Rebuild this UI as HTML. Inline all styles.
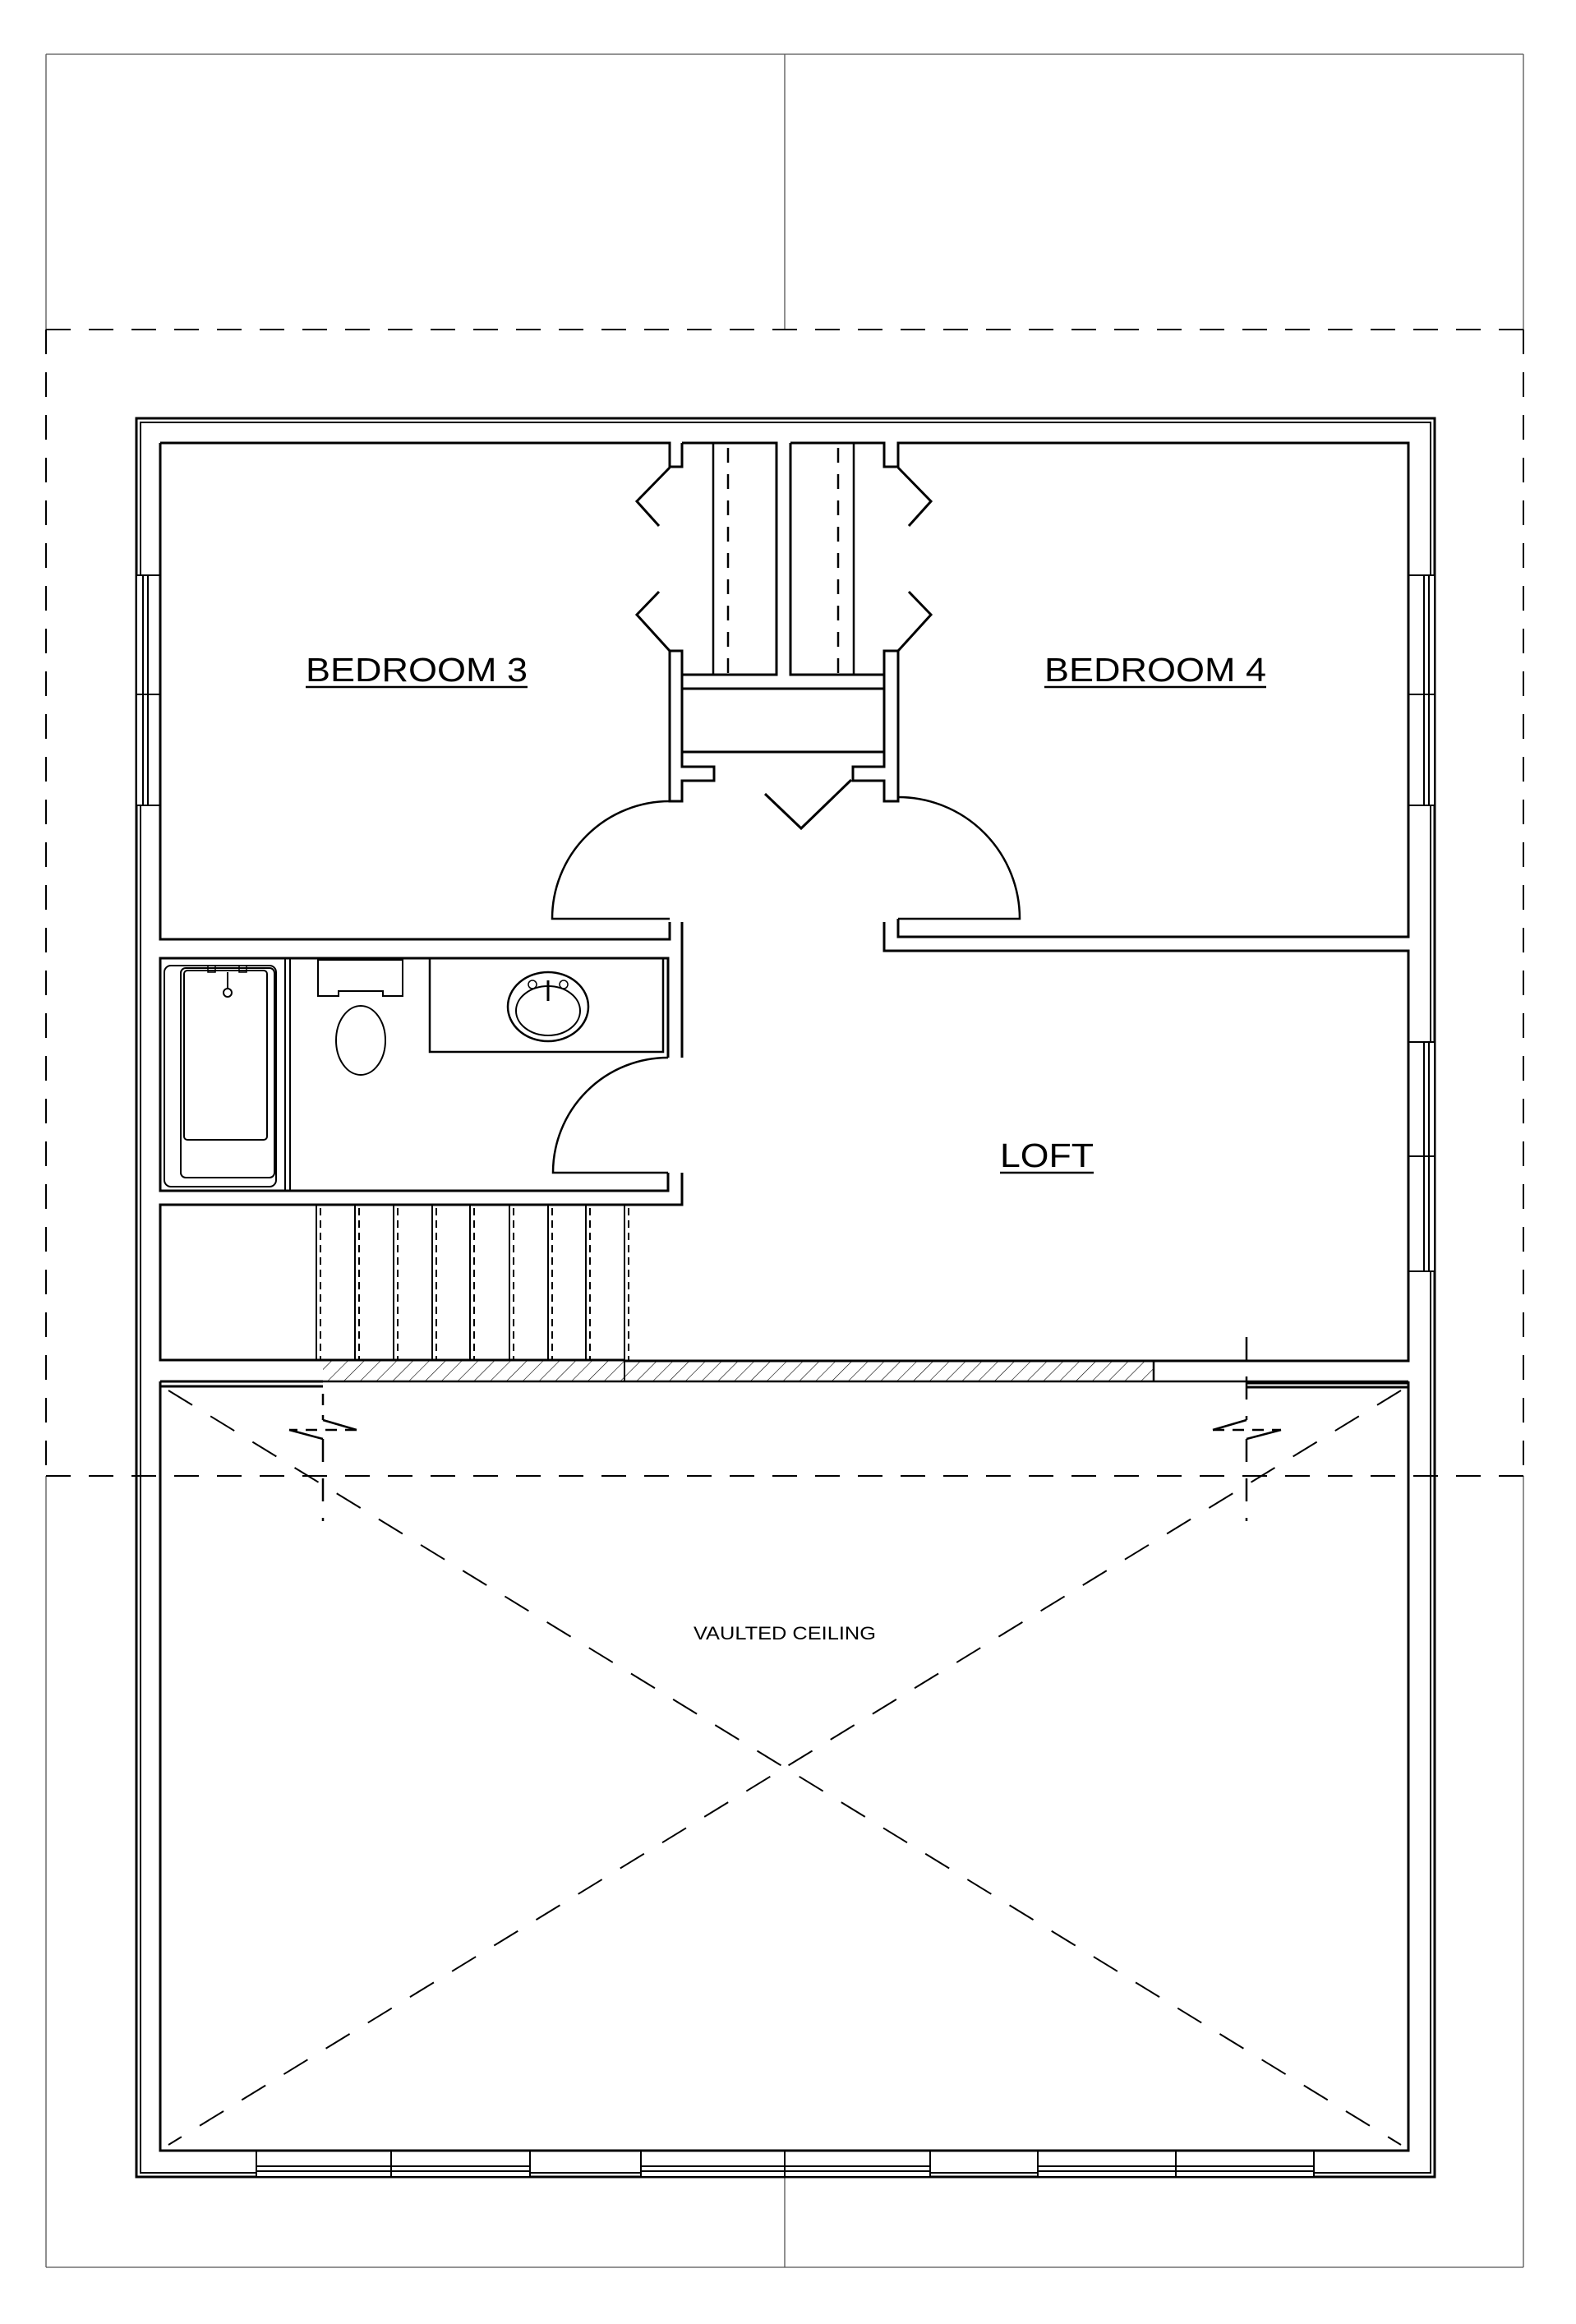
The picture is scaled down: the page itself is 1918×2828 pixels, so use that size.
<!DOCTYPE html>
<html><head><meta charset="utf-8"><style>
html,body{margin:0;padding:0;background:#fff}
svg{display:block}
text{font-family:"Liberation Sans",sans-serif;fill:#000}
</style></head><body>
<svg width="1918" height="2828" viewBox="0 0 1918 2828" xmlns="http://www.w3.org/2000/svg">
<defs>
<pattern id="h" patternUnits="userSpaceOnUse" width="14" height="14" patternTransform="rotate(45)">
<line x1="0" y1="0" x2="0" y2="14" stroke="#000" stroke-width="1.2"/>
</pattern>
</defs>
<rect width="1918" height="2828" fill="#fff"/>
<g fill="none" stroke="#000">
<!-- thin sheet frame -->
<g stroke-width="1.3" stroke="#555">
<line x1="56" y1="66" x2="1854" y2="66"/>
<line x1="56" y1="66" x2="56" y2="401"/>
<line x1="1854" y1="66" x2="1854" y2="401"/>
<line x1="955" y1="66" x2="955" y2="401"/>
<line x1="56" y1="1796" x2="56" y2="2759"/>
<line x1="1854" y1="1796" x2="1854" y2="2759"/>
<line x1="56" y1="2759" x2="1854" y2="2759"/>
<line x1="955" y1="2649" x2="955" y2="2759"/>
</g>
<!-- dashed frame -->
<g stroke-width="2" stroke-dasharray="30,22">
<line x1="56" y1="401" x2="1854" y2="401"/>
<line x1="56" y1="401" x2="56" y2="1796"/>
<line x1="1854" y1="401" x2="1854" y2="1796"/>
<line x1="56" y1="1796" x2="1854" y2="1796"/>
</g>
<!-- outer walls -->
<rect x="166" y="509" width="1580" height="2140" stroke-width="3"/>
<rect x="171" y="514" width="1570" height="2130" stroke-width="2"/>
<!-- windows left -->
<g stroke-width="2" fill="#fff">
<rect x="166" y="700" width="29" height="280"/>
<line x1="174" y1="700" x2="174" y2="980"/><line x1="180" y1="700" x2="180" y2="980"/>
<line x1="166" y1="845" x2="195" y2="845"/>
<rect x="1714" y="700" width="32" height="280"/>
<line x1="1733" y1="700" x2="1733" y2="980"/><line x1="1739" y1="700" x2="1739" y2="980"/>
<line x1="1714" y1="845" x2="1746" y2="845"/>
<rect x="1714" y="1268" width="32" height="279"/>
<line x1="1733" y1="1268" x2="1733" y2="1547"/><line x1="1739" y1="1268" x2="1739" y2="1547"/>
<line x1="1714" y1="1407" x2="1746" y2="1407"/>
<rect x="312" y="2617" width="333" height="32"/>
<line x1="312" y1="2636" x2="645" y2="2636"/><line x1="312" y1="2642" x2="645" y2="2642"/>
<line x1="476" y1="2617" x2="476" y2="2649"/>
<rect x="780" y="2617" width="352" height="32"/>
<line x1="780" y1="2636" x2="1132" y2="2636"/><line x1="780" y1="2642" x2="1132" y2="2642"/>
<line x1="955" y1="2617" x2="955" y2="2649"/>
<rect x="1263" y="2617" width="336" height="32"/>
<line x1="1263" y1="2636" x2="1599" y2="2636"/><line x1="1263" y1="2642" x2="1599" y2="2642"/>
<line x1="1431" y1="2617" x2="1431" y2="2649"/>
</g>
<g stroke-width="3">
<!-- bedroom 3 -->
<path d="M195,539 H815 V568 H830 V539 M195,539 V1143 H815 V1122"/>
<!-- closets -->
<path d="M830,539 H945 V821 H830 V792 H815 V975 H830 V950 H869 V933 H830 V915"/>
<path d="M962,539 H1076 V568 H1093 V539 H1714 V1140 H1093 V1118"/>
<path d="M962,539 V821 H1076 V792 H1093 V975 H1076 V950 H1038 V933 H1076 V915"/>
<rect x="830" y="838" width="246" height="77"/>
<path d="M830,821 V838 M1076,821 V838"/>
<line x1="868" y1="539" x2="868" y2="821" stroke-width="2.5"/>
<line x1="1039" y1="539" x2="1039" y2="821" stroke-width="2.5"/>
<line x1="886" y1="545" x2="886" y2="821" stroke-width="2.5" stroke-dasharray="18,14"/>
<line x1="1020" y1="545" x2="1020" y2="821" stroke-width="2.5" stroke-dasharray="18,14"/>
<polyline points="815,569 775,610 802,640"/>
<polyline points="802,720 775,748 815,792"/>
<polyline points="1093,569 1133,610 1106,640"/>
<polyline points="1106,720 1133,748 1093,792"/>
<!-- hall doors -->
<path d="M1093,970 A148,148 0 0 1 1241,1118 H1093" stroke-width="2.5"/>
<path d="M815,975 A143,143 0 0 0 672,1118 H815" stroke-width="2.5"/>
<polyline points="1036,949 975,1008 931,966" stroke-width="3"/>
<!-- loft box -->
<path d="M1076,1122 V1157 H1714 V1656 H760"/>
<!-- bath -->
<path d="M830,1122 V1287 M813,1287 V1166 H195 V1449 H813 V1427"/>
<path d="M813,1287 A140,140 0 0 0 673,1427 H813" stroke-width="2.5"/>
<path d="M830,1427 V1466 H195 V1655 H393"/>
<!-- tub -->
<rect x="200" y="1175" width="136" height="269" rx="8" stroke-width="2"/>
<rect x="220" y="1178" width="114" height="255" rx="6" stroke-width="2"/>
<rect x="224" y="1181" width="101" height="206" rx="4" stroke-width="2"/>
<line x1="347" y1="1166" x2="347" y2="1449" stroke-width="2"/>
<line x1="353" y1="1166" x2="353" y2="1449" stroke-width="2"/>
<circle cx="277" cy="1208" r="5" stroke-width="2"/>
<rect x="253" y="1175" width="9" height="8" stroke-width="1.5"/>
<rect x="291" y="1175" width="9" height="8" stroke-width="1.5"/>
<line x1="277" y1="1183" x2="277" y2="1203" stroke-width="2"/>
<!-- toilet -->
<path d="M387,1168 H490 V1212 H466 V1206 H412 V1212 H387 Z" stroke-width="2"/>
<ellipse cx="439" cy="1266" rx="30" ry="42" stroke-width="2"/>
<!-- vanity -->
<path d="M523,1166 V1280 H807 V1166" stroke-width="2.5"/>
<ellipse cx="667" cy="1225" rx="49" ry="42" stroke-width="2.5"/>
<ellipse cx="667" cy="1230" rx="39" ry="30" stroke-width="2"/>
<line x1="667" y1="1193" x2="667" y2="1218" stroke-width="3"/>
<circle cx="648" cy="1198" r="5" stroke-width="1.5"/>
<circle cx="686" cy="1198" r="5" stroke-width="1.5"/>
</g>
<!-- stairs -->
<g stroke-width="2">
<line x1="385" y1="1466" x2="385" y2="1655"/>
<line x1="432" y1="1466" x2="432" y2="1655"/>
<line x1="479" y1="1466" x2="479" y2="1655"/>
<line x1="526" y1="1466" x2="526" y2="1655"/>
<line x1="572" y1="1466" x2="572" y2="1655"/>
<line x1="620" y1="1466" x2="620" y2="1655"/>
<line x1="667" y1="1466" x2="667" y2="1655"/>
<line x1="713" y1="1466" x2="713" y2="1655"/>
<line x1="760" y1="1466" x2="760" y2="1681"/>
<line x1="385" y1="1655" x2="760" y2="1655" stroke-width="3"/>
</g>
<g stroke-width="2" stroke-dasharray="9,6">
<line x1="390" y1="1470" x2="390" y2="1655"/>
<line x1="437" y1="1470" x2="437" y2="1655"/>
<line x1="484" y1="1470" x2="484" y2="1655"/>
<line x1="531" y1="1470" x2="531" y2="1655"/>
<line x1="577" y1="1470" x2="577" y2="1655"/>
<line x1="625" y1="1470" x2="625" y2="1655"/>
<line x1="672" y1="1470" x2="672" y2="1655"/>
<line x1="718" y1="1470" x2="718" y2="1655"/>
<line x1="765" y1="1470" x2="765" y2="1655"/>
</g>
<!-- hatched band -->
<rect x="393" y="1656" width="1011" height="25" fill="url(#h)" stroke="none"/>
<line x1="393" y1="1681" x2="1714" y2="1681" stroke-width="2.5"/>
<line x1="1404" y1="1656" x2="1404" y2="1681" stroke-width="2.5"/>
<!-- vaulted room -->
<path d="M195,1681 H393 M195,1687 H393 M1517,1683 H1714 M1517,1688 H1714" stroke-width="3"/>
<path d="M195,1681 V2617 H1714 V1681" stroke-width="3"/>
<!-- X -->
<g stroke-width="2" stroke-dasharray="34,26">
<line x1="205" y1="1692" x2="1705" y2="2610"/>
<line x1="1705" y1="1692" x2="205" y2="2610"/>
</g>
<!-- break lines -->
<g stroke-width="2.5">
<line x1="393" y1="1696" x2="393" y2="1728" stroke-dasharray="14,12"/>
<polyline points="393,1728 434,1740"/>
<line x1="434" y1="1740" x2="352" y2="1740" stroke-dasharray="14,10"/>
<polyline points="352,1740 393,1751"/>
<line x1="393" y1="1751" x2="393" y2="1851" stroke-dasharray="28,20"/>
<line x1="1517" y1="1627" x2="1517" y2="1728" stroke-dasharray="28,20"/>
<polyline points="1517,1728 1476,1740"/>
<line x1="1476" y1="1740" x2="1559" y2="1740" stroke-dasharray="14,10"/>
<polyline points="1559,1740 1517,1751"/>
<line x1="1517" y1="1751" x2="1517" y2="1851" stroke-dasharray="28,20"/>
</g>
</g>
<!-- labels -->
<text x="507" y="829" font-size="41" text-anchor="middle" textLength="270" lengthAdjust="spacingAndGlyphs">BEDROOM 3</text>
<line x1="372" y1="836" x2="642" y2="836" stroke="#000" stroke-width="2.5"/>
<text x="1406" y="829" font-size="41" text-anchor="middle" textLength="270" lengthAdjust="spacingAndGlyphs">BEDROOM 4</text>
<line x1="1271" y1="836" x2="1541" y2="836" stroke="#000" stroke-width="2.5"/>
<text x="1274" y="1420" font-size="41" text-anchor="middle" textLength="114" lengthAdjust="spacingAndGlyphs">LOFT</text>
<line x1="1217" y1="1427" x2="1331" y2="1427" stroke="#000" stroke-width="2.5"/>
<text x="955" y="1995" font-size="22" text-anchor="middle" textLength="222" lengthAdjust="spacingAndGlyphs">VAULTED CEILING</text>
</svg>
</body></html>
